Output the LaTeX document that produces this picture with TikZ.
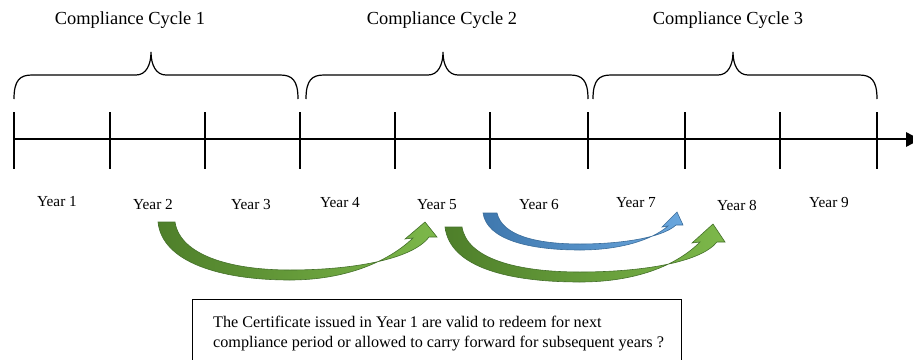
\documentclass[tikz,border=0pt]{standalone}
\usepackage{fontspec}
\setmainfont{Liberation Serif}
\definecolor{gdark}{HTML}{4E7F2A}
\definecolor{glight}{HTML}{7DB84A}
\definecolor{gedge}{HTML}{44702A}
\definecolor{bdark}{HTML}{3F78AE}
\definecolor{blight}{HTML}{6AA7DE}
\definecolor{bedge}{HTML}{3A6C9A}
\tikzset{
  axis/.style={line width=1.3pt, black},
  brace/.style={line width=1.2pt, black},
  cyclelbl/.style={font=\fontsize{18.4}{22}\selectfont, inner sep=0pt},
  yearlbl/.style={font=\fontsize{15.3}{18}\selectfont, inner sep=0pt},
  garrow/.style={left color=gdark, right color=glight, draw=gedge, line width=0.6pt},
  barrow/.style={left color=bdark, right color=blight, draw=bedge, line width=0.6pt},
  notebox/.style={draw=black, line width=1pt}
}
\newcommand{\drawbrace}[3]{% left, tip, right
  \draw[brace] (#1,99) .. controls (#1,80) and (#1+6,75) .. (#1+18,75)
    -- (#2-15,75) .. controls (#2-5,75) and (#2,65) .. (#2,52)
    .. controls (#2,65) and (#2+5,75) .. (#2+15,75)
    -- (#3-18,75) .. controls (#3-6,75) and (#3,80) .. (#3,99);}
\begin{document}
\begin{tikzpicture}[x=1pt,y=-1pt]
\useasboundingbox (0,0) rectangle (913,359);
\clip (0,0) rectangle (913,359);
% braces
\drawbrace{14}{151}{298}
\drawbrace{306}{443}{588}
\drawbrace{593}{733}{877}
% cycle labels
\node[cyclelbl] (c1) at (130,20) {Compliance Cycle 1};
\node[cyclelbl] (c2) at (442,20) {Compliance Cycle 2};
\node[cyclelbl] (c3) at (728,20) {Compliance Cycle 3};
% axis
\coordinate (a0) at (14,139);
\coordinate (aend) at (906,139);
\draw[axis] (a0) -- (aend);
\fill[black] (906,132) -- (920,139.5) -- (906,147) -- cycle;
\foreach \x in {14,110,205,300,395,490,588,685,780,877}{
  \draw[axis] (\x,112) -- (\x,169);
}
% year labels
\node[yearlbl] (y1) at (57,202) {Year 1};
\node[yearlbl] (y2) at (153,205) {Year 2};
\node[yearlbl] (y3) at (251,205) {Year 3};
\node[yearlbl] (y4) at (340,203) {Year 4};
\node[yearlbl] (y5) at (437,205) {Year 5};
\node[yearlbl] (y6) at (539,205) {Year 6};
\node[yearlbl] (y7) at (636,203) {Year 7};
\node[yearlbl] (y8) at (737,205) {Year 8};
\node[yearlbl] (y9) at (829,203) {Year 9};
% green arrow 1 (Year 2 -> Year 5)
\path[garrow] (158,222) .. controls (162,262) and (220,280) .. (290,280)
  .. controls (345,280) and (388,262) .. (413,238)
  -- (405,239) -- (425,222) -- (437,237) -- (429,237)
  .. controls (412,260) and (350,270) .. (290,270)
  .. controls (230,270) and (180,255) .. (175,222) -- cycle;
% green arrow 2 (Year 5 -> Year 8)
\path[garrow] (445,227) .. controls (450,268) and (510,282) .. (580,282)
  .. controls (635,282) and (676,266) .. (700,242)
  -- (692,243) -- (713,224) -- (725,242) -- (717,242)
  .. controls (700,263) and (640,272) .. (580,272)
  .. controls (515,272) and (467,258) .. (462,227) -- cycle;
% blue arrow (Year 6 -> Year 7)
\path[barrow] (483,213) .. controls (487,240) and (530,250) .. (580,250)
  .. controls (620,250) and (652,240) .. (668,226)
  -- (662,227) -- (677,212) -- (683,225) -- (676,225)
  .. controls (662,238) and (620,244) .. (580,244)
  .. controls (535,244) and (502,235) .. (497,213) -- cycle;
% note box
\draw[notebox] (192,299) rectangle (681,370);
\node[anchor=base west, align=left, inner sep=0pt,
  font=\fontsize{16.2}{20.5}\selectfont] (note) at (213,347.5)
  {The Certificate issued in Year 1 are valid to redeem for next\\
   compliance period or allowed to carry forward for subsequent years ?};
\end{tikzpicture}
\end{document}
